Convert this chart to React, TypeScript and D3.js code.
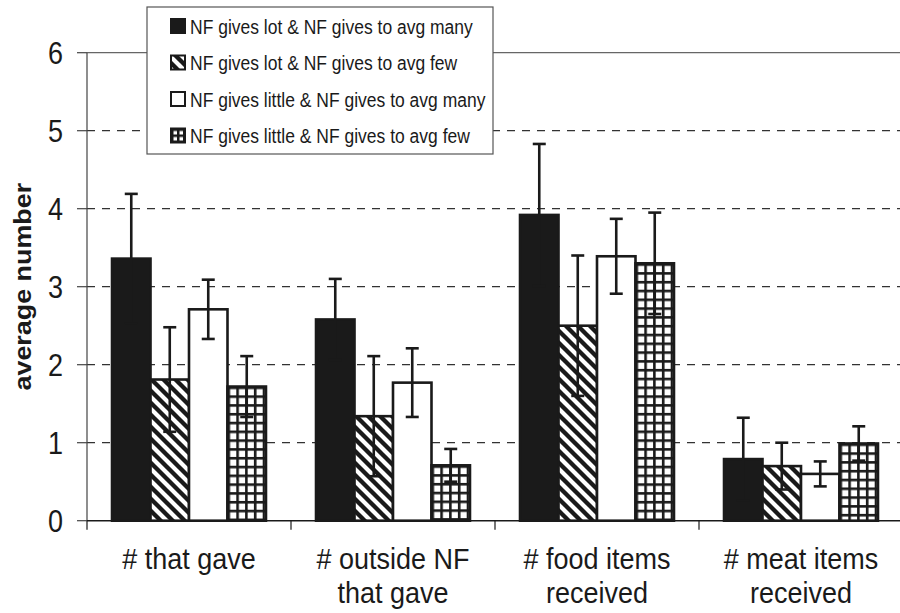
import React from "react";
import * as d3 from "d3";

const categoryLines: string[][] = [
  ["# that gave"],
  ["# outside NF", "that gave"],
  ["# food items", "received"],
  ["# meat items", "received"],
];
const categories = categoryLines.map((l) => l.join(" "));

const seriesNames = [
  "NF gives lot & NF gives to avg many",
  "NF gives lot & NF gives to avg few",
  "NF gives little & NF gives to avg many",
  "NF gives little & NF gives to avg few",
];

const meanLotMany = [3.36, 2.58, 3.92, 0.79];
const meanLotFew = [1.81, 1.34, 2.5, 0.7];
const meanLittleMany = [2.71, 1.77, 3.39, 0.6];
const meanLittleFew = [1.72, 0.71, 3.3, 0.99];

const errLotMany = [0.83, 0.52, 0.91, 0.53];
const errLotFew = [0.67, 0.77, 0.9, 0.3];
const errLittleMany = [0.38, 0.44, 0.48, 0.16];
const errLittleFew = [0.39, 0.21, 0.65, 0.22];

const yTicks = [0, 1, 2, 3, 4, 5, 6];

const means = [meanLotMany, meanLotFew, meanLittleMany, meanLittleFew];
const errs = [errLotMany, errLotFew, errLittleMany, errLittleFew];
const fills = ["#1a1a1a", "url(#hatch)", "#ffffff", "grid"];

const W = 900;
const H = 613;
const left = 87;
const right = 903;
const top = 52.7;
const bottom = 520.7;
const ink = "#1a1a1a";
const font = "'Liberation Sans', Arial, Helvetica, sans-serif";

export default function App() {
  const x0 = d3.scaleBand<string>().domain(categories).range([left, right]).padding(0);
  const x1 = d3
    .scaleBand<string>()
    .domain(seriesNames)
    .range([0, x0.bandwidth()])
    .paddingInner(0)
    .paddingOuter(0.65);
  const y = d3.scaleLinear().domain([0, 6]).range([bottom, top]);

  const bars: { key: string; x: number; w: number; v: number; e: number; s: number; c: number }[] = [];
  seriesNames.forEach((s, si) => {
    categories.forEach((c, ci) => {
      bars.push({
        key: `${si}-${ci}`,
        x: (x0(c) as number) + (x1(s) as number),
        w: x1.bandwidth(),
        v: means[si][ci],
        e: errs[si][ci],
        s: si,
        c: ci,
      });
    });
  });

  const gridPeriod = 8.8;
  const fillFor = (b: { s: number; key: string }) =>
    b.s === 3 ? `url(#grid-${b.key})` : fills[b.s];

  const legendX = 147;
  const legendY = 7;
  const legendW = 346;
  const legendH = 147;
  const rowGap = 36.5;

  return (
    <svg
      width={W}
      height={H}
      viewBox={`0 0 ${W} ${H}`}
      style={{ position: "absolute", left: 0, top: 0, background: "#fff" }}
      fontFamily={font}
    >
      <defs>
        <pattern id="hatch" patternUnits="userSpaceOnUse" width={12} height={12}>
          <rect width={12} height={12} fill="#fff" />
          <path
            d="M-3,-3 L15,15 M-9,3 L3,15 M9,-3 L21,9"
            stroke={ink}
            strokeWidth={4.3}
          />
        </pattern>
        {bars
          .filter((b) => b.s === 3)
          .map((b) => (
            <pattern
              key={b.key}
              id={`grid-${b.key}`}
              patternUnits="userSpaceOnUse"
              x={b.x}
              y={y(b.v)}
              width={gridPeriod}
              height={gridPeriod}
            >
              <rect width={gridPeriod} height={gridPeriod} fill={ink} />
              <rect x={2.6} y={2.6} width={gridPeriod - 2.6} height={gridPeriod - 2.6} fill="#fff" />
            </pattern>
          ))}
        <pattern id="gridLegend" patternUnits="userSpaceOnUse" x={171} y={legendY + 3 * rowGap + 12} width={6} height={6}>
          <rect width={6} height={6} fill={ink} />
          <rect x={2.5} y={2.5} width={3.5} height={3.5} fill="#fff" />
        </pattern>
      </defs>

      {/* gridlines */}
      {yTicks
        .filter((t) => t > 0 && t < 6)
        .map((t) => (
          <line
            key={t}
            x1={left}
            x2={W}
            y1={y(t)}
            y2={y(t)}
            stroke="#333"
            strokeWidth={1.2}
            strokeDasharray="8 7"
          />
        ))}
      <line x1={left} x2={W} y1={y(6)} y2={y(6)} stroke="#666" strokeWidth={1.3} />

      {/* y axis */}
      <line x1={left} x2={left} y1={y(6)} y2={bottom} stroke="#444" strokeWidth={1.2} />
      {yTicks.map((t) => (
        <g key={t}>
          <line x1={left - 10} x2={left} y1={y(t)} y2={y(t)} stroke="#444" strokeWidth={1.2} />
          <text
            transform={`translate(63,${y(t) + 11}) scale(1,1.15)`}
            textAnchor="end"
            fontSize={27}
            fill={ink}
          >
            {t}
          </text>
        </g>
      ))}
      <text
        transform={`translate(31,${(top + bottom) / 2}) scale(1,1.12) rotate(-90)`}
        textAnchor="middle"
        fontSize={24}
        fontWeight="bold"
        fill={ink}
      >
        average number
      </text>

      {/* bars */}
      {bars.map((b) => (
        <rect
          key={b.key}
          x={b.x}
          y={y(b.v)}
          width={b.w}
          height={bottom - y(b.v)}
          fill={fillFor(b)}
          stroke={ink}
          strokeWidth={2.6}
        />
      ))}

      {/* error bars */}
      {bars.map((b) => {
        const cx = b.x + b.w / 2;
        const y1 = y(b.v + b.e);
        const y2 = y(b.v - b.e);
        return (
          <g key={`e${b.key}`} stroke={ink} strokeWidth={2.6}>
            <line x1={cx} x2={cx} y1={y1} y2={y2} />
            <line x1={cx - 6.5} x2={cx + 6.5} y1={y1} y2={y1} />
            <line x1={cx - 6.5} x2={cx + 6.5} y1={y2} y2={y2} />
          </g>
        );
      })}

      {/* x axis */}
      <line x1={left} x2={W} y1={bottom} y2={bottom} stroke={ink} strokeWidth={1.6} />
      {categories.map((c) => (
        <line
          key={c}
          x1={(x0(c) as number) + x0.bandwidth()}
          x2={(x0(c) as number) + x0.bandwidth()}
          y1={bottom}
          y2={bottom + 9}
          stroke={ink}
          strokeWidth={1.2}
        />
      ))}
      <line x1={left} x2={left} y1={bottom} y2={bottom + 9} stroke={ink} strokeWidth={1.2} />
      {categoryLines.map((lines, i) => {
        const cx = (x0(categories[i]) as number) + x0.bandwidth() / 2;
        return lines.map((ln, j) => (
          <text
            key={`${i}-${j}`}
            transform={`translate(${cx},${569 + j * 34}) scale(1,1.1)`}
            textAnchor="middle"
            fontSize={27}
            fill={ink}
          >
            {ln}
          </text>
        ));
      })}

      {/* legend */}
      <rect
        x={legendX}
        y={legendY}
        width={legendW}
        height={legendH}
        fill="#fff"
        stroke="#555"
        strokeWidth={1.2}
      />
      {seriesNames.map((s, i) => {
        const cy = legendY + 19 + i * rowGap;
        const sw = i === 3 ? "url(#gridLegend)" : fills[i];
        return (
          <g key={s}>
            <rect x={171} y={cy - 7} width={14} height={14} fill={sw} stroke={ink} strokeWidth={2} />
            <text
              transform={`translate(190,${cy + 7.5}) scale(1,1.2)`}
              fontSize={17.5}
              fill={ink}
            >
              {s}
            </text>
          </g>
        );
      })}
    </svg>
  );
}
